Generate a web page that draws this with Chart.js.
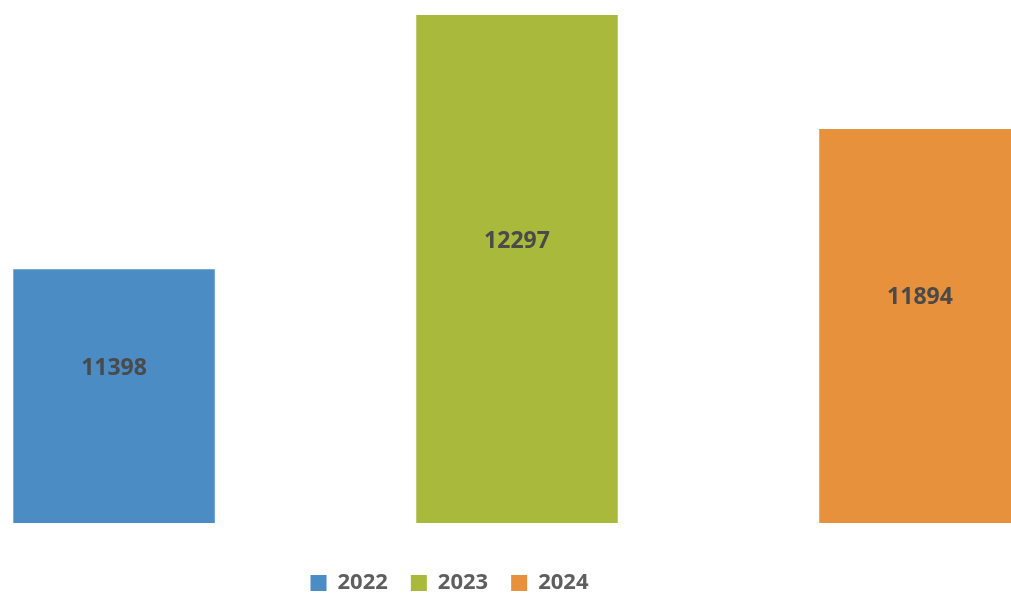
<!DOCTYPE html>
<html>
<head>
<meta charset="utf-8">
<script src="https://cdn.jsdelivr.net/npm/chart.js@4.4.1/dist/chart.umd.min.js"></script>
<style>
  html, body { margin: 0; padding: 0; background: #fff; overflow: hidden; }
  #wrap { position: relative; width: 1011px; height: 604px; }
</style>
</head>
<body>
<div id="wrap"><canvas id="grafico"></canvas></div>
<script>
// datos
const anios = ['2022', '2023', '2024'];
const valores = [11398, 12297, 11894];
const colores = ['#4a8cc3', '#a9b93b', '#e8913c'];

// etiquetas dentro de las barras
const etiquetas = {
  id: 'etiquetas',
  afterDatasetsDraw(chart) {
    const ctx = chart.ctx;
    const meta = chart.getDatasetMeta(0);
    ctx.save();
    ctx.font = 'bold 23px "Open Sans"';
    ctx.fillStyle = '#4a4a4a';
    ctx.textAlign = 'center';
    ctx.textBaseline = 'middle';
    meta.data.forEach(function (bar, i) {
      const y = (bar.y + bar.base) / 2 - 28;
      ctx.fillText(String(valores[i]), bar.x, y);
    });
    ctx.restore();
  }
};

const ctx = document.getElementById('grafico');

new Chart(ctx, {
  type: 'bar',
  data: {
    labels: anios,
    datasets: [{
      label: 'Ventas',
      data: valores.map(function (v, i) { return { x: i, y: v }; }),
      backgroundColor: colores,
      base: 10500,
      categoryPercentage: 1,
      barPercentage: 0.5,
      clip: false
    }]
  },
  options: {
    responsive: true,
    maintainAspectRatio: false,
    animation: false,
    layout: { padding: { right: 112 } },
    scales: {
      x: {
        type: 'linear',
        display: false,
        offset: false,
        min: -0.283,
        max: 1.948,
        ticks: { stepSize: 1, includeBounds: false }
      },
      y: {
        display: false,
        min: 10408,
        max: 12350
      }
    },
    plugins: {
      tooltip: { enabled: false },
      legend: {
        position: 'bottom',
        labels: {
          boxWidth: 16,
          boxHeight: 16,
          padding: 23,
          color: '#5e5e5e',
          font: { family: '"Open Sans"', size: 22, weight: 'bold' },
          generateLabels: function () {
            return anios.map(function (a, i) {
              return { text: a, fillStyle: colores[i], strokeStyle: colores[i], fontColor: '#5e5e5e', lineWidth: 0, index: i };
            });
          }
        }
      }
    }
  },
  plugins: [etiquetas]
});
</script>
</body>
</html>
